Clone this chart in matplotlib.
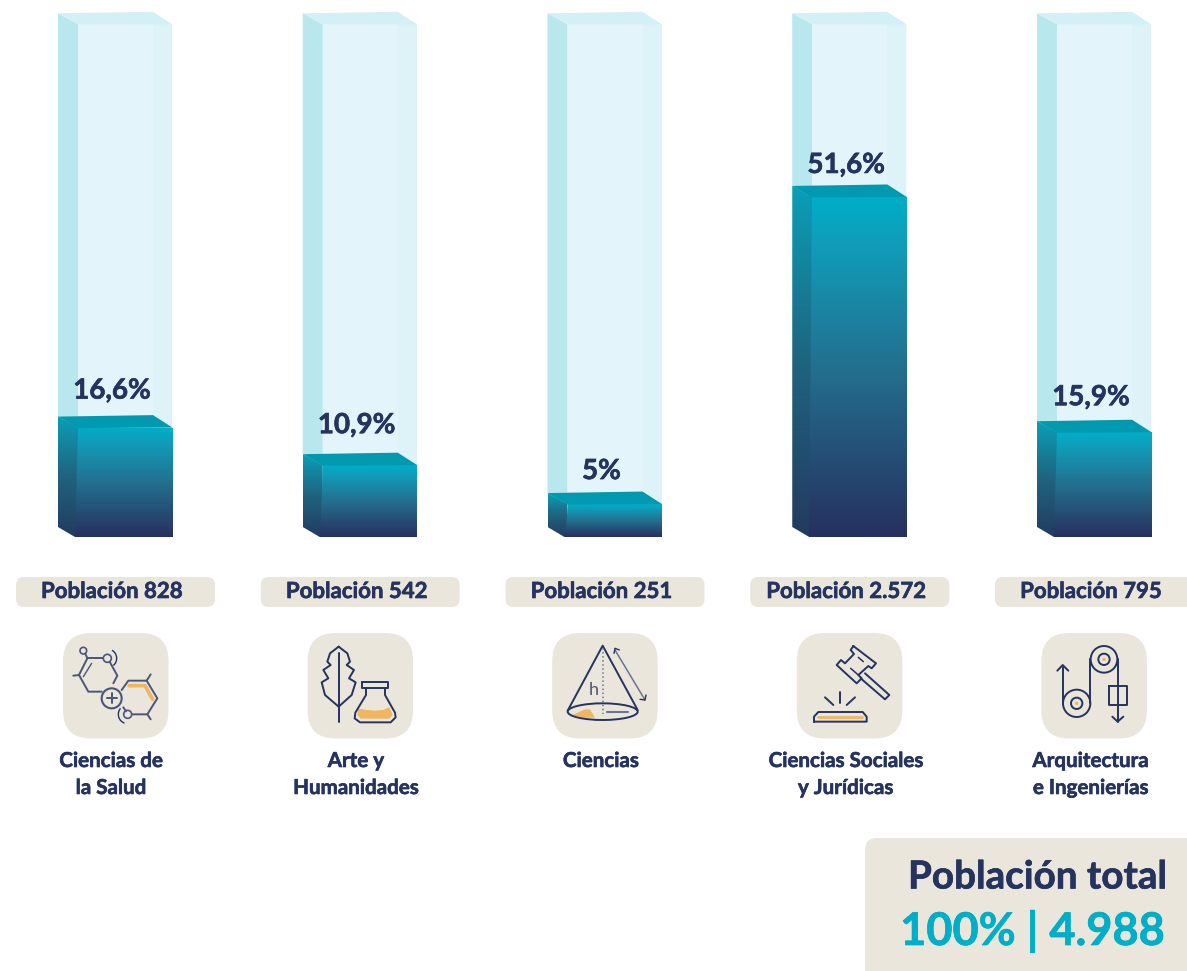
import numpy as np
import matplotlib
matplotlib.use("Agg")
import matplotlib.pyplot as plt
import matplotlib.patheffects as pe
from matplotlib.patches import Polygon, FancyBboxPatch, Circle, Ellipse, Arc
from matplotlib.colors import LinearSegmentedColormap

categories = [["Ciencias de", "la Salud"], ["Arte y", "Humanidades"], ["Ciencias"],
              ["Ciencias Sociales", "y Jurídicas"], ["Arquitectura", "e Ingenierías"]]
percent_values = [16.6, 10.9, 5.0, 51.6, 15.9]
percent_labels = ["16,6%", "10,9%", "5%", "51,6%", "15,9%"]
population_labels = ["Población 828", "Población 542", "Población 251", "Población 2.572", "Población 795"]
total_title = "Población total"
total_value = "100% | 4.988"
track_max = 77.8

NAVY = "#25335F"; TEAL = "#00AEC7"; BEIGE = "#EBE6DC"; ORANGE = "#F0B55F"
W, H = 1187, 971
plt.rcParams['font.family'] = ['Lato', 'DejaVu Sans']
fig = plt.figure(figsize=(W/100, H/100), dpi=100)
ax = fig.add_axes([0, 0, 1, 1])
ax.set_xlim(0, W); ax.set_ylim(H, 0); ax.axis("off")

BASE = 537; SCALE = 6.59; STEP = 244.75; LEFT = 58; DX = 20; FW = 94; DY = 11
LABEL_GAPS = [37, 40, 33, 32, 35]
front_cm = LinearSegmentedColormap.from_list("f", [(0, "#00AEC7"), (.12, "#0F9FBB"), (.5, "#23708F"), (1, "#27305F")])
side_cm = LinearSegmentedColormap.from_list("s", [(0, "#0A9FB8"), (.5, "#1F647F"), (1, "#243A60")])
grad = np.linspace(0, 1, 256)[:, None]
BOLD = [pe.withStroke(linewidth=0.45, foreground=NAVY)]

def gradient_poly(pts, cmap, y0, y1, z=3):
    poly = Polygon(pts, closed=True, fc="none", ec="none", transform=ax.transData)
    ax.add_patch(poly)
    xs = [p[0] for p in pts]
    im = ax.imshow(grad, cmap=cmap, aspect="auto", extent=(min(xs), max(xs), y1, y0), zorder=z)
    im.set_clip_path(poly)

def draw_bar(i, value):
    x0 = LEFT + i * STEP
    xf = x0 + DX; xr = xf + FW; xb = xr - 19
    track_top = BASE - track_max * SCALE
    top = BASE - value * SCALE
    ax.add_patch(Polygon([(x0, track_top-DY), (xf, track_top), (xf, top), (x0, top-DY)], fc="#B8E8EE", ec="none", zorder=1))
    ax.add_patch(Polygon([(xf, track_top), (xr, track_top), (xr, top), (xf, top)], fc="#E3F5FA", ec="none", zorder=1))
    ax.add_patch(Polygon([(xb, track_top-DY), (xr, track_top), (xr, top), (xb, top-DY)], fc="#DEF3F7", ec="none", zorder=1))
    ax.add_patch(Polygon([(x0, track_top-DY), (xb, track_top-DY-1.5), (xr, track_top), (xf, track_top)], fc="#D2F0F5", ec="none", zorder=2))
    gradient_poly([(x0, top-DY), (xf, top), (xf, BASE), (xf-3, BASE), (x0, BASE-10)], side_cm, top-DY, BASE)
    gradient_poly([(xf, top), (xr+.5, top), (xr+.5, BASE), (xf-3, BASE)], front_cm, top, BASE, z=4)
    ax.add_patch(Polygon([(x0, top-DY), (xb, top-DY-1.5), (xr+.5, top), (xf, top+.5)], fc="#0099B0", ec="none", zorder=5))

def rounded(x, y, w, h, r, color, z=2):
    ax.add_patch(FancyBboxPatch((x+r, y+r), w-2*r, h-2*r, boxstyle=f"round,pad={r},rounding_size={r}", fc=color, ec="none", zorder=z))

class Ic:
    """Icon pen working in 3x crop coordinates relative to crop origin."""
    def __init__(s, cx, cy, lw=1.4): s.cx, s.cy, s.lw = cx, cy, lw
    def p(s, x, y): return s.cx + x/3, s.cy + y/3
    def line(s, pts, color=NAVY, lw=None, ls="-", closed=False, z=6):
        q = [s.p(*a) for a in pts]
        if closed: q.append(q[0])
        ax.plot(*zip(*q), color=color, lw=lw or s.lw, ls=ls, solid_capstyle="round", solid_joinstyle="round", zorder=z)
    def circ(s, x, y, r, lw=None, fc="none", ec=NAVY):
        ax.add_patch(Circle(s.p(x, y), r/3, fc=fc, ec=ec, lw=lw if lw is not None else s.lw, zorder=7))
    def arc(s, x, y, r, a0, a1):
        ax.add_patch(Arc(s.p(x, y), 2*r/3, 2*r/3, theta1=a0, theta2=a1, ec=NAVY, lw=1.0, zorder=6))
    def fill(s, pts, color=ORANGE):
        ax.add_patch(Polygon([s.p(*a) for a in pts], fc=color, ec="none", zorder=5))

def icon_chem(c):
    gray = "#4A5578"
    c.circ(250, 92, 10, ec=gray, lw=1.2)
    c.line([(256, 101), (262, 115), (237, 165), (265, 215), (305, 215)], color=gray)
    c.line([(262, 115), (310, 115)], color=gray)
    c.circ(322, 115, 12, ec=gray, lw=1.2)
    c.line([(330, 127), (352, 167), (340, 190)], color=gray)
    c.line([(220, 167), (237, 165)], color=gray)
    c.line([(250, 170), (275, 130)], color=gray, lw=1.0)
    c.arc(322, 115, 28, 300, 50)
    c.circ(335, 235, 30, ec=gray, lw=1.5, fc=BEIGE)
    c.line([(320, 235), (350, 235)], color=gray, z=8); c.line([(335, 220), (335, 250)], color=gray, z=8)
    c.line([(365, 210), (385, 182), (440, 182), (472, 235), (442, 283), (396, 283)], color=gray)
    c.line([(370, 262), (378, 274)], color=gray)
    c.circ(383, 283, 12, ec=gray, lw=1.2)
    c.line([(440, 182), (452, 163)], color=gray); c.line([(442, 283), (452, 298)], color=gray)
    c.line([(387, 197), (435, 197), (458, 238)], color=ORANGE, lw=2.6)
    c.arc(383, 283, 28, 110, 220)

def icon_leaf(c):
    leaf = [(1016, 80), (1042, 100), (1050, 125), (1040, 135), (1062, 150), (1047, 175), (1067, 187),
            (1055, 225), (1016, 260), (975, 225), (965, 187), (985, 175), (970, 150), (992, 135), (982, 125), (990, 100)]
    c.line(leaf, closed=True)
    c.line([(1016, 100), (1016, 305)])
    c.fill([(1075, 266), (1100, 270), (1125, 272), (1150, 270), (1168, 262), (1178, 285), (1168, 296), (1082, 296), (1072, 285)])
    c.line([(1087, 187), (1165, 187), (1165, 205), (1087, 205)], closed=True)
    c.line([(1098, 205), (1098, 225), (1066, 278), (1064, 295), (1080, 307), (1172, 307), (1187, 292), (1185, 278), (1155, 225), (1155, 205)])

def icon_cone(c):
    c.fill([(247, 285), (285, 268), (300, 268), (315, 293), (280, 293)])
    ax.add_patch(Ellipse(c.p(338, 275), 210/3, 50/3, fc="none", ec=NAVY, lw=1.4, zorder=6))
    c.line([(233, 272), (338, 77), (443, 270)])
    c.line([(338, 85), (338, 282)], color="#6A7494", lw=1.1, ls=":")
    c.line([(350, 277), (415, 277)], color="#6A7494", lw=1.5)
    x, y = c.p(312, 210)
    ax.text(x, y, "h", color="#4A5578", fontsize=13, ha="center", va="center", zorder=7)
    c.line([(375, 90), (465, 240)], color="#6A7494", lw=1.1)
    c.line([(372, 100), (375, 85), (388, 90)], lw=1.0); c.line([(450, 238), (465, 240), (468, 225)], lw=1.0)

def icon_gavel(c):
    c.line([(1090, 78), (1158, 130), (1145, 145), (1135, 138), (1105, 165), (1115, 175), (1100, 190),
            (1040, 135), (1053, 120), (1065, 130), (1092, 102), (1082, 90)], closed=True)
    c.line([(1105, 112), (1120, 125)], lw=1.1); c.line([(1082, 145), (1105, 165)], lw=1.1)
    c.line([(1125, 160), (1198, 225), (1185, 238), (1112, 175)])
    c.line([(972, 305), (1130, 305), (1130, 290), (1118, 276), (985, 276), (972, 290)], closed=True)
    c.line([(985, 291), (1115, 291)], color=ORANGE, lw=2)
    c.line([(1050, 217), (1050, 250)]); c.line([(1005, 232), (1030, 255)]); c.line([(1095, 232), (1070, 255)])

def icon_pulley(c):
    for x, y, r in [(372, 118, 40), (290, 250, 41)]:
        c.circ(x, y, r); c.circ(x, y, 17); c.circ(x, y, 5, fc=ORANGE, ec="none", lw=0)
    c.line([(248, 250), (248, 140)]); c.line([(232, 152), (248, 135), (265, 152)])
    c.line([(331, 118), (331, 250)])
    c.line([(413, 118), (413, 305)]); c.line([(397, 290), (413, 305), (430, 290)])
    c.line([(386, 197), (442, 197), (442, 254), (386, 254)], closed=True)

for i, v in enumerate(percent_values):
    draw_bar(i, v)
    x0 = LEFT + i * STEP; xc = x0 + DX + FW/2 - 13
    ax.text(xc, BASE - v*SCALE - LABEL_GAPS[i], percent_labels[i], color=NAVY, fontsize=20, fontweight="bold",
            ha="center", va="center", zorder=8, path_effects=BOLD)
    pillx = 16 + i * 244.75
    rounded(pillx, 577, 199, 30, 8, BEIGE)
    ax.text(pillx + 96, 591.5, population_labels[i], color=NAVY, fontsize=16, fontweight="bold",
            ha="center", va="center", zorder=8, path_effects=BOLD)
    rounded(63 + i*244.6, 633, 105.5, 105.5, 28, BEIGE)
    for j, line in enumerate(categories[i]):
        ax.text(111 + i*244.9, 761 + j*27, line, color=NAVY, fontsize=14.8, fontweight="bold",
                ha="center", va="center", zorder=8, path_effects=BOLD)

icon_chem(Ic(0, 620)); icon_leaf(Ic(0, 620)); icon_cone(Ic(490, 620)); icon_gavel(Ic(490, 620)); icon_pulley(Ic(980, 620))

ax.add_patch(FancyBboxPatch((877, 850), 330, 140, boxstyle="round,pad=12,rounding_size=12", fc=BEIGE, ec="none", zorder=2))
ax.text(1167, 877, total_title, color=NAVY, fontsize=27.8, fontweight="bold", ha="right", va="center", zorder=8, path_effects=BOLD)
ax.text(1165, 931, total_value, color=TEAL, fontsize=32.5, fontweight="bold", ha="right", va="center", zorder=8,
        path_effects=[pe.withStroke(linewidth=0.5, foreground=TEAL)])

ax.set_xlim(0, W); ax.set_ylim(H, 0)
fig.savefig("out.png", dpi=100)
